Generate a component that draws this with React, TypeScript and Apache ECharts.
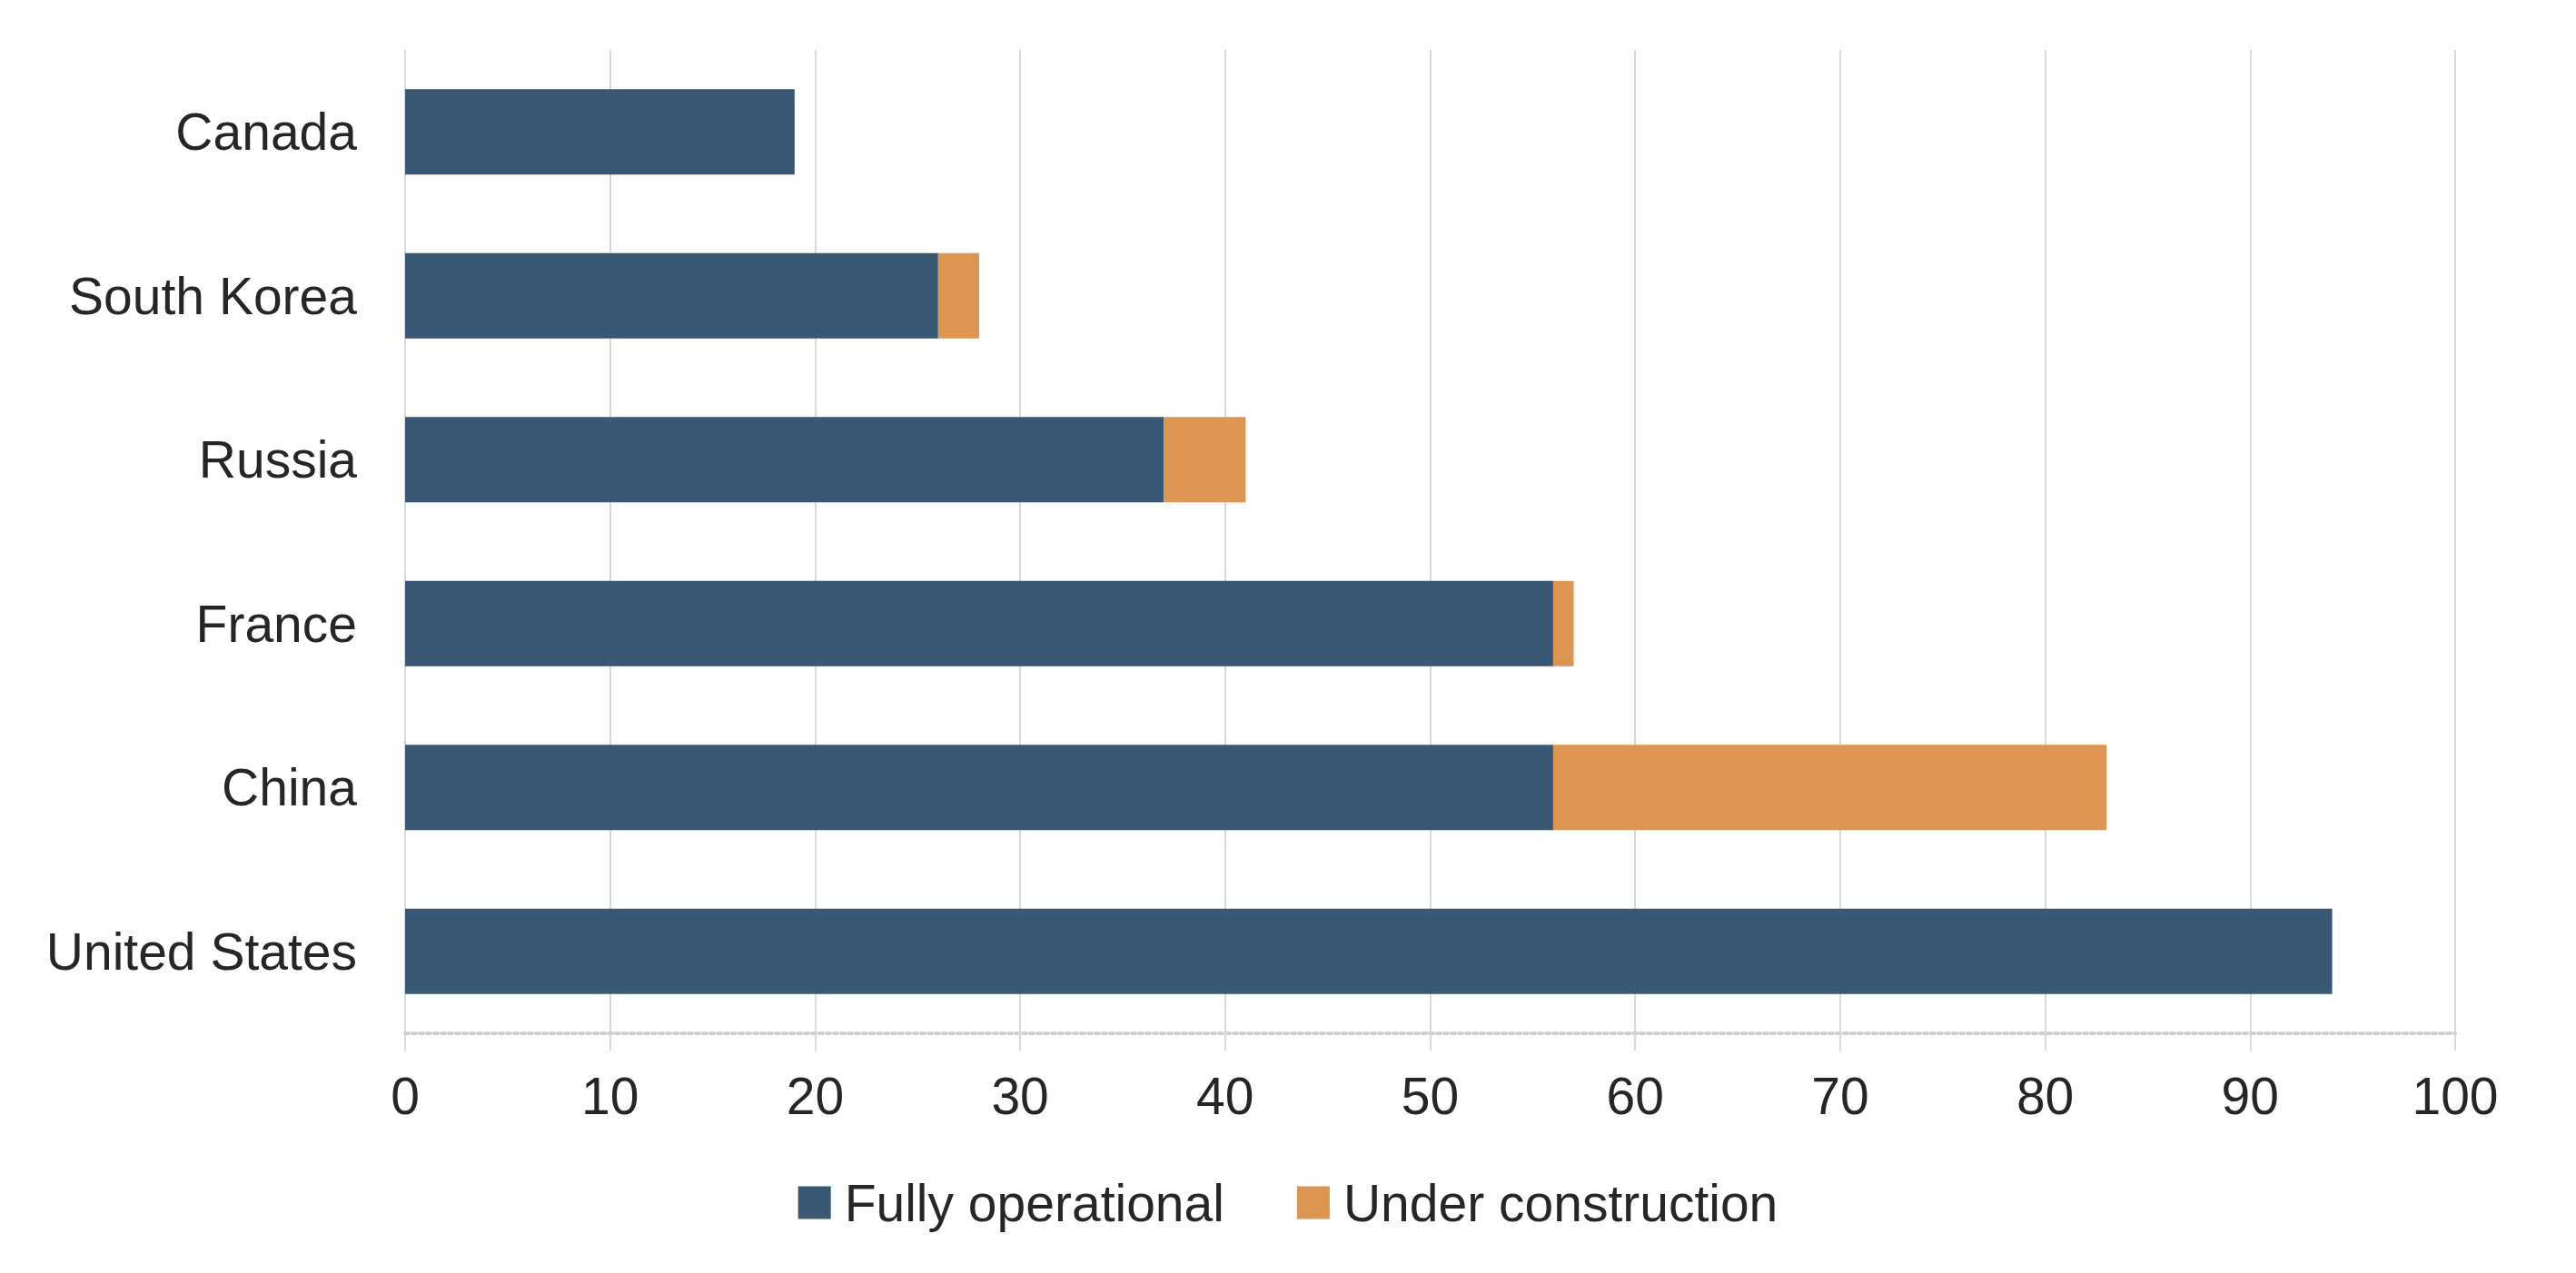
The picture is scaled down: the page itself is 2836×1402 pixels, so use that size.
import React, { useEffect, useRef } from "react";
import * as echarts from "echarts";

const categories = ["United States", "China", "France", "Russia", "South Korea", "Canada"];
const fullyOperational = [94, 56, 56, 37, 26, 19];
const underConstruction = [0, 27, 1, 4, 2, 0];
const seriesNames = ["Fully operational", "Under construction"];
const colors = ["#3a5874", "#dc9652"];

export default function App() {
  const ref = useRef<HTMLDivElement>(null);
  useEffect(() => {
    document.body.style.margin = "0";
    const chart = echarts.init(ref.current!, null, { renderer: "svg" });
    const font = "'Liberation Sans', Arial, sans-serif";
    chart.setOption({
      animation: false,
      backgroundColor: "#ffffff",
      color: colors,
      grid: { left: 446, right: 133, top: 55, bottom: 264, containLabel: false },
      legend: {
        data: seriesNames,
        left: "center",
        top: 1291,
        itemWidth: 36,
        itemHeight: 36,
        itemGap: 80,
        icon: "rect",
        textStyle: { fontFamily: font, fontSize: 57, color: "#262626", padding: [0, 0, 0, 10] },
      },
      xAxis: {
        type: "value",
        min: 0,
        max: 100,
        interval: 10,
        axisLine: { show: true, lineStyle: { color: "#cfcfcf", width: 4, type: "dotted" } },
        axisTick: { show: true, length: 19, lineStyle: { color: "#d9d9d9", width: 2 } },
        splitLine: { show: true, lineStyle: { color: "#d9d9d9", width: 2 } },
        axisLabel: { fontFamily: font, fontSize: 57, color: "#262626", margin: 40 },
      },
      yAxis: {
        type: "category",
        data: categories,
        axisLine: { show: false },
        axisTick: { show: false },
        axisLabel: { fontFamily: font, fontSize: 57, color: "#262626", margin: 53 },
      },
      series: [
        {
          name: seriesNames[0],
          type: "bar",
          stack: "total",
          data: fullyOperational,
          barCategoryGap: "48%",
          itemStyle: { color: colors[0] },
        },
        {
          name: seriesNames[1],
          type: "bar",
          stack: "total",
          data: underConstruction,
          barCategoryGap: "48%",
          itemStyle: { color: colors[1] },
        },
      ],
    });
    return () => chart.dispose();
  }, []);
  return <div ref={ref} style={{ width: 2836, height: 1402 }} />;
}
